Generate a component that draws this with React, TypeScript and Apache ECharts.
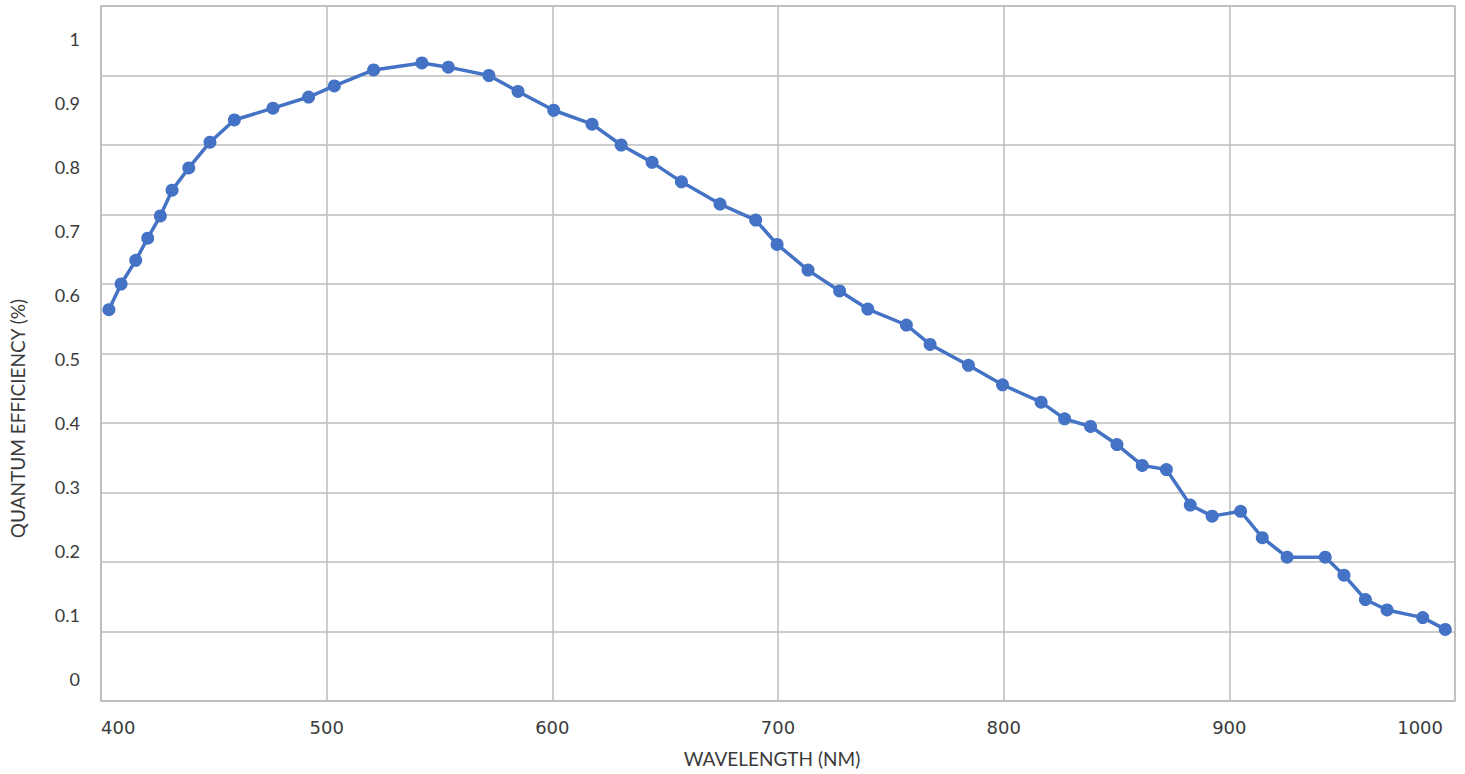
import React, { useEffect, useRef } from "react";
import * as echarts from "echarts";

const wavelengths = [
  403.5, 408.9, 415.4, 420.7, 426.3, 431.5, 438.9, 448.3, 459.1, 476.2,
  492.0, 503.4, 520.8, 542.2, 553.9, 571.9, 584.8, 600.6, 617.6, 630.5,
  644.2, 657.2, 674.3, 690.1, 699.6, 713.3, 727.3, 739.8, 756.9, 767.4,
  784.4, 799.5, 816.6, 827.0, 838.5, 850.2, 861.4, 872.1, 882.7, 892.4,
  905.0, 914.6, 925.6, 942.5, 950.8, 960.3, 969.9, 985.7, 995.7,
];
const efficiency = [
  0.563, 0.600, 0.634, 0.666, 0.698, 0.735, 0.767, 0.804, 0.836, 0.853,
  0.869, 0.885, 0.908, 0.918, 0.912, 0.900, 0.877, 0.850, 0.830, 0.800,
  0.775, 0.747, 0.715, 0.692, 0.657, 0.620, 0.590, 0.564, 0.541, 0.513,
  0.483, 0.455, 0.430, 0.406, 0.395, 0.369, 0.339, 0.333, 0.282, 0.266,
  0.273, 0.235, 0.207, 0.207, 0.181, 0.146, 0.131, 0.120, 0.103,
];
const yTickLabels = ["0", "0.1", "0.2", "0.3", "0.4", "0.5", "0.6", "0.7", "0.8", "0.9", "1"];
const xTickLabels = ["400", "500", "600", "700", "800", "900", "1000"];

const GRID_GRAY = "#BDBDBD";
const TEXT = "#3A3A3A";

export default function App() {
  const ref = useRef<HTMLDivElement>(null);
  useEffect(() => {
    if (!ref.current) return;
    const chart = echarts.init(ref.current, null, { renderer: "svg" });
    const points = wavelengths.map((w, i) => [w, efficiency[i]]);
    chart.setOption({
      animation: false,
      backgroundColor: "#ffffff",
      grid: [
        {
          left: 101, right: 10, top: 6, bottom: 73,
          show: true, borderColor: GRID_GRAY, borderWidth: 1.5,
        },
        { left: 101, right: 10, top: 39, bottom: 95, show: false },
      ],
      xAxis: [
        {
          gridIndex: 0,
          type: "value",
          min: 400, max: 1000, interval: 100,
          name: "WAVELENGTH (NM)",
          nameLocation: "middle",
          nameGap: 48,
          nameTextStyle: { fontFamily: "Lato", fontSize: 19, color: TEXT, padding: [0, 12, 0, 0] },
          axisLine: { show: true, lineStyle: { color: GRID_GRAY, width: 1.5 } },
          axisTick: { show: false },
          splitLine: { show: true, lineStyle: { color: GRID_GRAY, width: 1.5 } },
          axisLabel: {
            show: true,
            margin: 17,
            alignMinLabel: "left",
            alignMaxLabel: "right",
            fontFamily: "DejaVu Sans",
            fontSize: 18,
            color: TEXT,
            formatter: (v: number) => {
              const idx = Math.round((v - 400) / 100);
              const t = xTickLabels[idx] ?? String(v);
              return idx === xTickLabels.length - 1 ? "{r|" + t + "}" : t;
            },
            rich: {
              r: { fontFamily: "DejaVu Sans", fontSize: 18, color: TEXT, padding: [0, 12, 0, 0] },
            },
          },
        },
        {
          gridIndex: 1,
          type: "value",
          min: 0, max: 1,
          show: false,
        },
      ],
      yAxis: [
        {
          gridIndex: 0,
          type: "value",
          min: 0, max: 1, interval: 0.1,
          name: "QUANTUM EFFICIENCY (%)",
          nameLocation: "middle",
          nameGap: 74,
          nameTextStyle: { fontFamily: "Lato", fontSize: 19, color: TEXT, padding: [0, 130, 0, 0] },
          axisLine: { show: true, lineStyle: { color: GRID_GRAY, width: 1.5 } },
          axisTick: { show: false },
          axisLabel: { show: false },
          splitLine: { show: true, lineStyle: { color: GRID_GRAY, width: 1.5 } },
        },
        {
          gridIndex: 1,
          type: "category",
          data: yTickLabels,
          boundaryGap: false,
          axisLine: { show: false },
          axisTick: { show: false },
          splitLine: { show: false },
          axisLabel: {
            show: true,
            margin: 21,
            interval: 0,
            fontFamily: "Lato",
            fontSize: 18,
            color: TEXT,
          },
        },
      ],
      series: [
        {
          type: "line",
          xAxisIndex: 0,
          yAxisIndex: 0,
          data: points,
          smooth: false,
          symbol: "circle",
          symbolSize: 13,
          lineStyle: { color: "#4472C4", width: 3.5 },
          itemStyle: { color: "#4472C4" },
        },
      ],
    });
    return () => chart.dispose();
  }, []);
  return (
    <div
      ref={ref}
      style={{ position: "fixed", left: 0, top: 0, width: 1465, height: 774, background: "#fff" }}
    />
  );
}
